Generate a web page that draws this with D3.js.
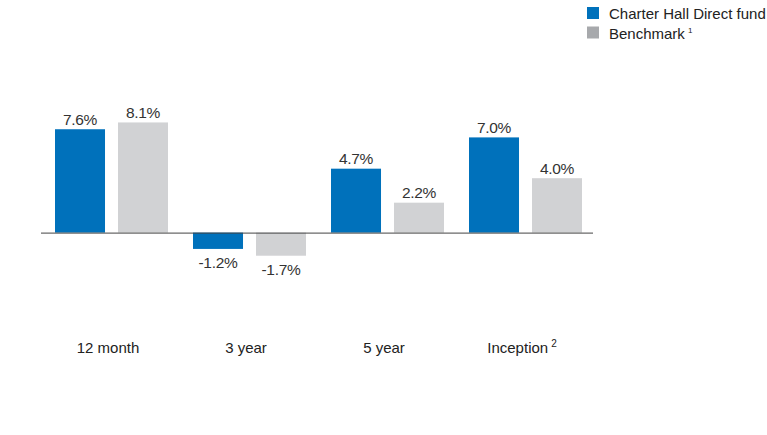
<!DOCTYPE html>
<html lang="en">
<head>
<meta charset="utf-8">
<script src="https://d3js.org/d3.v7.min.js"></script>
<style>
  body { margin: 0; background: #fff; }
  text { font-family: "Liberation Sans", Arial, sans-serif; }
</style>
</head>
<body>
<script>
// Chart data
var categories = ["12 month", "3 year", "5 year", "Inception"];
var catSup = ["", "", "", "2"];
var seriesNames = ["Charter Hall Direct fund", "Benchmark"];
var legendSup = ["", "1"];
var fundValues = [7.6, -1.2, 4.7, 7.0];
var benchValues = [8.1, -1.7, 2.2, 4.0];

var w = 767, h = 435;
var colors = ["#0071bb", "#d1d2d4"];
var legendColors = ["#0071bb", "#a7a9ac"];

var svg = d3.select("body").append("svg")
    .attr("width", w)
    .attr("height", h);

// x band per category, inner band per series
var x = d3.scaleBand()
    .domain(categories)
    .range([41, 593]);

var xs = d3.scaleBand()
    .domain([0, 1])
    .range([14, 127])
    .paddingInner(0.206);

var y = d3.scaleLinear()
    .domain([-4, 10])
    .range([287, 96.6]);

var rows = categories.map(function(c, i) {
    return { cat: c, vals: [fundValues[i], benchValues[i]] };
});

var groups = svg.selectAll("g.grp")
    .data(rows)
    .enter().append("g")
    .attr("class", "grp")
    .attr("transform", function(d) { return "translate(" + x(d.cat) + ",0)"; });

groups.selectAll("rect")
    .data(function(d) { return d.vals; })
    .enter().append("rect")
    .attr("x", function(d, i) { return xs(i); })
    .attr("width", xs.bandwidth())
    .attr("y", function(d) { return y(Math.max(0, d)); })
    .attr("height", function(d) { return Math.abs(y(d) - y(0)); })
    .attr("fill", function(d, i) { return colors[i]; });

groups.selectAll("text.val")
    .data(function(d) { return d.vals; })
    .enter().append("text")
    .attr("class", "val")
    .attr("x", function(d, i) { return xs(i) + xs.bandwidth() / 2; })
    .attr("y", function(d) { return d >= 0 ? y(d) - 4.5 : y(d) + 19.5; })
    .attr("text-anchor", "middle")
    .attr("font-size", 15.5)
    .attr("letter-spacing", -0.3)
    .attr("fill", "#333")
    .text(function(d) { return d.toFixed(1) + "%"; });

// zero line
svg.append("line")
    .attr("x1", x.range()[0])
    .attr("x2", x.range()[1])
    .attr("y1", y(0) + 0.5)
    .attr("y2", y(0) + 0.5)
    .attr("stroke", "#444")
    .attr("stroke-width", 1);

// category labels
var catText = svg.selectAll("text.cat")
    .data(categories)
    .enter().append("text")
    .attr("class", "cat")
    .attr("x", function(d) { return x(d) + x.bandwidth() / 2 - 2; })
    .attr("y", 353)
    .attr("text-anchor", "middle")
    .attr("font-size", 15)
    .attr("fill", "#222")
    .text(function(d) { return d; });

catText.append("tspan")
    .attr("font-size", 10)
    .attr("dx", 3)
    .attr("dy", -6)
    .text(function(d, i) { return catSup[i]; });

// legend
var legend = svg.selectAll("g.leg")
    .data(seriesNames)
    .enter().append("g")
    .attr("class", "leg")
    .attr("transform", function(d, i) { return "translate(587," + (7 + i * 19.5) + ")"; });

legend.append("rect")
    .attr("width", 12)
    .attr("height", 12)
    .attr("fill", function(d, i) { return legendColors[i]; });

var legText = legend.append("text")
    .attr("x", 22)
    .attr("y", 12)
    .attr("font-size", 15)
    .attr("fill", "#222")
    .text(function(d) { return d; });

legText.append("tspan")
    .attr("font-size", 8)
    .attr("dx", 3)
    .attr("dy", -6)
    .text(function(d, i) { return legendSup[i]; });
</script>
</body>
</html>
